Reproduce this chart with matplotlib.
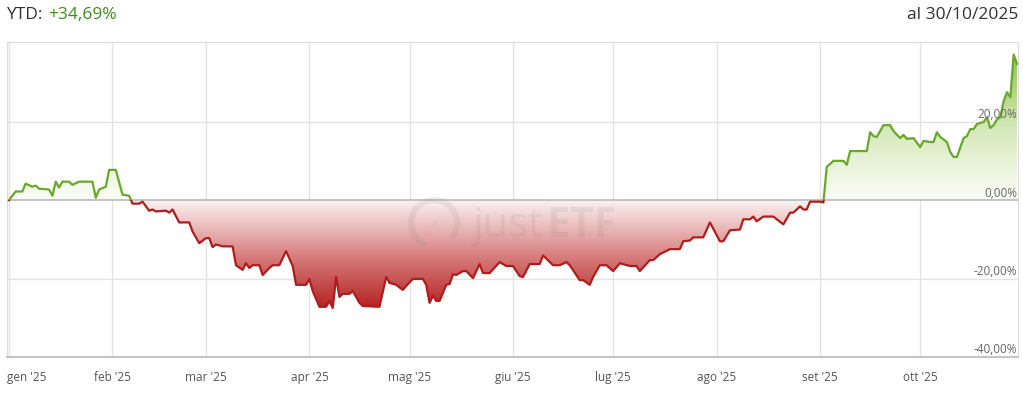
import pandas as pd
import matplotlib.pyplot as plt
import matplotlib.dates as mdates
import matplotlib.transforms as mtransforms
import numpy as np
from matplotlib.colors import LinearSegmentedColormap
from matplotlib.patches import Rectangle, Arc, Polygon
from matplotlib.path import Path

plt.rcParams['font.family'] = ['Open Sans', 'DejaVu Sans']

dates = ['01-01', '01-03', '01-05', '01-06', '01-08', '01-09', '01-10', '01-13', '01-14', '01-15',
         '01-16', '01-17', '01-19', '01-20', '01-22', '01-26', '01-27', '01-28', '01-30', '01-31',
         '02-02', '02-04', '02-06', '02-07', '02-09', '02-10', '02-12', '02-13', '02-14', '02-17',
         '02-18', '02-19', '02-21', '02-24', '02-25', '02-27', '03-01', '03-02', '03-03', '03-04',
         '03-06', '03-09', '03-10', '03-12', '03-13', '03-14', '03-15', '03-17', '03-18', '03-20',
         '03-21', '03-23', '03-25', '03-27', '03-28', '03-31', '04-01', '04-02', '04-04', '04-06',
         '04-07', '04-08', '04-09', '04-10', '04-11', '04-13', '04-14', '04-16', '04-17', '04-22',
         '04-24', '04-25', '04-27', '04-29', '04-30', '05-02', '05-05', '05-06', '05-07', '05-08',
         '05-09', '05-10', '05-12', '05-13', '05-14', '05-15', '05-17', '05-18', '05-20', '05-22',
         '05-23', '05-25', '05-28', '05-30', '06-01', '06-03', '06-04', '06-06', '06-09', '06-10',
         '06-13', '06-15', '06-17', '06-18', '06-21', '06-22', '06-24', '06-25', '06-27', '06-29',
         '07-01', '07-03', '07-06', '07-08', '07-09', '07-12', '07-13', '07-15', '07-18', '07-21',
         '07-22', '07-24', '07-25', '07-28', '07-30', '08-02', '08-03', '08-05', '08-08', '08-09',
         '08-11', '08-12', '08-13', '08-15', '08-18', '08-21', '08-23', '08-24', '08-26', '08-27',
         '08-28', '08-29', '09-01', '09-02', '09-03', '09-04', '09-05', '09-08', '09-09', '09-10',
         '09-11', '09-15', '09-16', '09-17', '09-18', '09-20', '09-22', '09-23', '09-25', '09-26',
         '09-27', '09-29', '10-01', '10-02', '10-04', '10-05', '10-06', '10-07', '10-09', '10-10',
         '10-11', '10-12', '10-14', '10-15', '10-16', '10-17', '10-18', '10-20', '10-21', '10-22',
         '10-23', '10-24', '10-25', '10-26', '10-27', '10-28', '10-29', '10-30']

values = [0.0, 2.2, 2.2, 4.2, 3.4, 3.7, 2.9, 2.7, 1.1, 4.7,
          3.2, 4.7, 4.7, 3.9, 4.7, 4.7, 0.6, 2.7, 3.4, 7.7,
          7.7, 1.4, 1.1, -0.9, -0.9, -0.4, -2.7, -2.4, -2.9, -2.7,
          -3.2, -2.4, -5.7, -5.7, -8.0, -11.0, -9.7, -9.7, -12.0, -11.3,
          -11.8, -11.8, -16.6, -17.8, -16.1, -17.3, -16.6, -16.6, -19.1, -17.3,
          -16.6, -16.6, -13.0, -16.8, -21.6, -21.6, -20.1, -23.2, -27.2, -27.2,
          -25.7, -27.5, -19.6, -24.7, -23.9, -23.9, -23.2, -26.2, -27.0, -27.2,
          -19.6, -21.1, -21.6, -22.9, -21.9, -20.1, -20.1, -21.6, -26.2, -24.4,
          -25.7, -25.7, -21.6, -21.4, -18.9, -19.1, -18.1, -18.1, -19.9, -16.3,
          -18.6, -18.6, -15.8, -16.8, -16.8, -19.4, -19.6, -16.3, -16.3, -14.1,
          -16.6, -16.6, -15.8, -16.6, -20.4, -20.4, -21.6, -19.6, -16.6, -16.6,
          -18.1, -16.1, -16.8, -16.8, -18.1, -15.3, -15.3, -13.8, -12.5, -12.5,
          -10.5, -10.3, -9.5, -9.5, -5.7, -10.5, -10.5, -7.7, -7.5, -4.9,
          -4.9, -4.2, -5.4, -4.2, -4.2, -6.2, -3.2, -3.2, -1.6, -2.4,
          -2.4, -0.4, -0.4, -0.6, 8.5, 9.2, 10.0, 10.0, 9.0, 12.5,
          12.5, 12.5, 17.3, 16.3, 16.1, 19.1, 19.1, 17.6, 15.8, 16.6,
          15.6, 15.8, 13.5, 15.1, 14.8, 14.8, 17.3, 16.1, 14.8, 12.3,
          11.0, 11.0, 15.8, 16.3, 18.1, 18.1, 19.4, 19.9, 21.1, 18.4,
          19.1, 20.6, 21.1, 25.2, 27.5, 26.2, 37.1, 34.69]

month_labels = ["gen '25", "feb '25", "mar '25", "apr '25", "mag '25", "giu '25",
                "lug '25", "ago '25", "set '25", "ott '25"]
y_ticks = [20, 0, -20, -40]
ytd = '+34,69%'
as_of = 'al 30/10/2025'

x = mdates.date2num(pd.to_datetime(['2025-' + d for d in dates]))
y = np.array(values)
months = mdates.date2num(pd.date_range('2025-01-01', periods=10, freq='MS'))

fig = plt.figure(figsize=(10.23, 3.99), dpi=100)
ax = fig.add_axes([7 / 1023, 42 / 399, 1011 / 1023, 315 / 399])
x0, x1 = x[0] - 0.6, x[-1] + 0.3
ymin, ymax = -40, 40.3

# grid
for m in months:
    ax.axvline(m, color='#e3e3e3', lw=1, zorder=0)
for t in (20, -20):
    ax.axhline(t, color='#e3e3e3', lw=1, zorder=0)

# gradient fills
green_cmap = LinearSegmentedColormap.from_list('g', ['#fbfdf8', '#d6e9bc', '#93c455'])
red_cmap = LinearSegmentedColormap.from_list('r', ['#b01818', '#d77c7c', '#fbf2f2'])
grad = np.linspace(0, 1, 256).reshape(-1, 1)


def clip_to(poly):
    return Path.make_compound_path(*poly.get_paths())


poly_g = ax.fill_between(x, y, 0, where=y >= 0, interpolate=True, color='none', lw=0)
im = ax.imshow(grad, cmap=green_cmap, extent=[x0, x1, 0, 36], origin='lower',
               aspect='auto', zorder=1)
im.set_clip_path(clip_to(poly_g), ax.transData)

poly_r = ax.fill_between(x, y, 0, where=y <= 0, interpolate=True, color='none', lw=0)
im2 = ax.imshow(grad, cmap=red_cmap, extent=[x0, x1, -29, 0], origin='lower',
                aspect='auto', zorder=1)
im2.set_clip_path(clip_to(poly_r), ax.transData)
ax.set_xlim(x0, x1)
ax.set_ylim(ymin, ymax)

ax.axhline(0, color='#c4c4c4', lw=1.5, zorder=2)

# watermark (pixel coords, origin bottom-left)
px = mtransforms.Affine2D().scale(1 / 1023, 1 / 399) + fig.transFigure
wm = dict(color='#888888', alpha=0.13, zorder=2)
ax.add_patch(Arc((434, 176), 46, 46, theta1=-40, theta2=250, lw=4.5, transform=px, **wm))
ax.add_patch(Polygon([(434, 176), (418, 156), (425, 166), (446, 186)], closed=True,
                     lw=0, transform=px, **wm))
ax.text(472, 162, 'just', transform=px, fontsize=30, ha='left', va='baseline', **wm)
ax.text(546, 162, 'ETF', transform=px, fontsize=30, ha='left', va='baseline',
        fontweight='bold', **wm)

# line split at zero
line_g, = ax.plot(x, y, color='#6aa72a', lw=1.6, zorder=3)
line_g.set_clip_path(Rectangle((x0, 0), x1 - x0, ymax, transform=ax.transData))
line_r, = ax.plot(x, y, color='#b01c1c', lw=1.6, zorder=3)
line_r.set_clip_path(Rectangle((x0, ymin), x1 - x0, -ymin, transform=ax.transData))

for sp in ['top', 'left', 'right']:
    ax.spines[sp].set_color('#dcdcdc')
ax.spines['bottom'].set_color('#c4c4c4')
ax.spines['bottom'].set_linewidth(1.5)
ax.set_xticks([])
ax.set_yticks([])

for t in y_ticks:
    ax.text(x1 - 0.3, t + 0.9, f'{t:,.2f}%'.replace('.', ','), ha='right', va='baseline',
            fontsize=8.5, color='#666666', zorder=4)

for i, (m, lab) in enumerate(zip(months, month_labels)):
    if i == 0:
        ax.text(x0, -0.045, lab, transform=ax.get_xaxis_transform(), ha='left', va='top',
                fontsize=8.5, color='#555555')
    else:
        ax.text(m, -0.045, lab, transform=ax.get_xaxis_transform(), ha='center', va='top',
                fontsize=8.5, color='#555555')

fig.text(6 / 1023, 1 - 15 / 399, 'YTD:', fontsize=12.5, color='#333333', va='center', ha='left')
fig.text(48 / 1023, 1 - 15 / 399, ytd, fontsize=12.5, color='#3f8a1f', va='center', ha='left')
fig.text(1018 / 1023, 1 - 15 / 399, as_of, fontsize=12.5, color='#333333', va='center', ha='right')

fig.savefig('out.png', dpi=100)
